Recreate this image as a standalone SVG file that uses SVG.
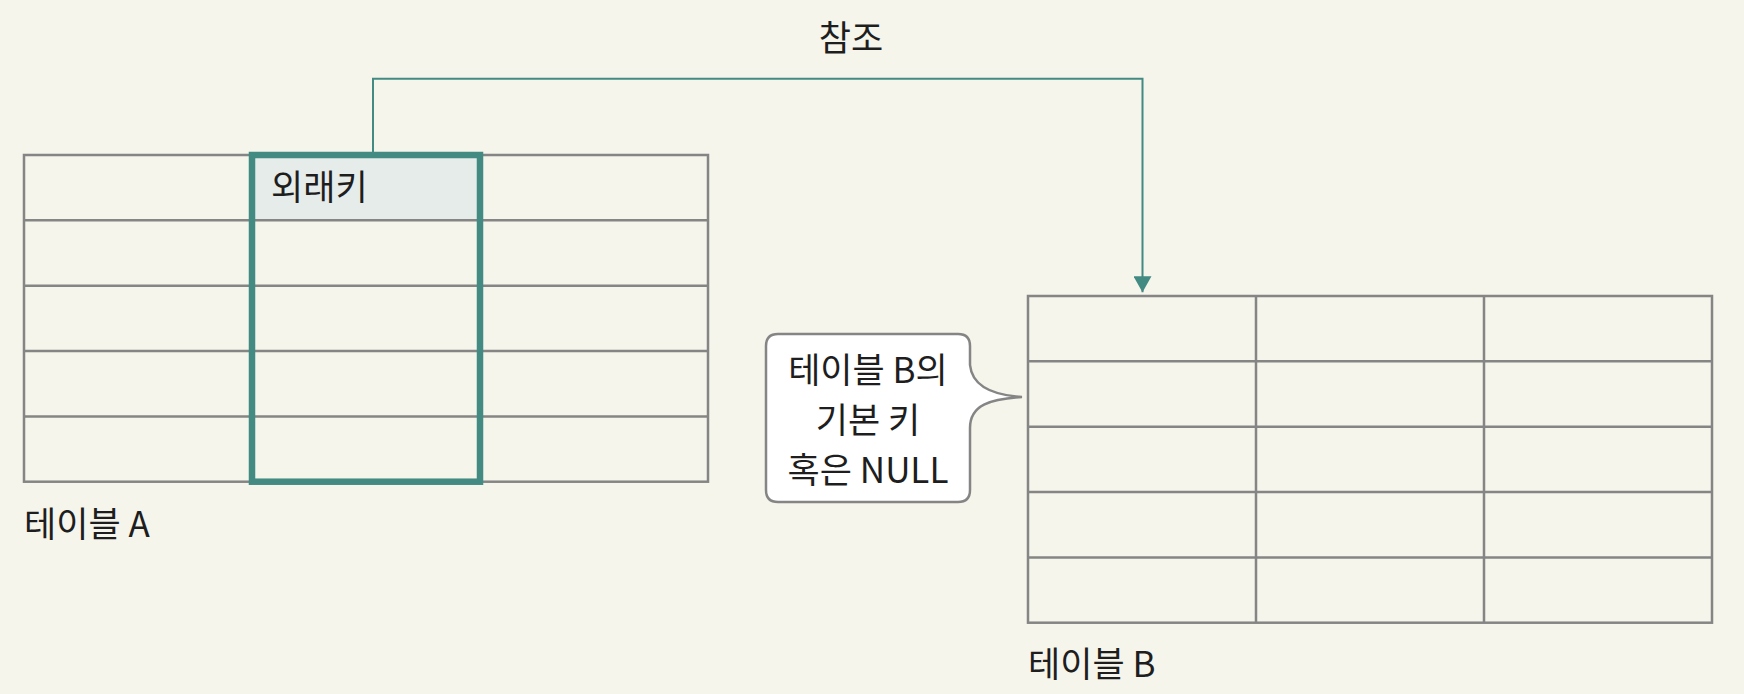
<svg xmlns="http://www.w3.org/2000/svg" width="1744" height="694" viewBox="0 0 1744 694">
<defs>
<style>
.bg{fill:#f5f5eb}
.cell{fill:none;stroke:#858585;stroke-width:2.5}
.txt{font-family:"Noto Sans CJK KR","Noto Sans",sans-serif;font-size:35px;fill:#1e1e1e}
.fk{fill:none;stroke:#428a82;stroke-width:6.5}
.conn{fill:none;stroke:#428a82;stroke-width:2}
.bubble{fill:#ffffff;stroke:#858585;stroke-width:2.5}
</style>
<marker id="arrow" viewBox="0 0 16 18" markerUnits="userSpaceOnUse" markerWidth="16" markerHeight="18" refX="16" refY="9" orient="auto">
<path d="M0,0 L16,9 L0,18 Z" fill="#428a82"/>
</marker>
</defs>
<rect class="bg" x="0" y="0" width="1744" height="694"/>

<g id="tableA">
<rect x="252" y="155" width="228" height="65.35" fill="#e6ece9"/>
<rect class="cell" x="24" y="155" width="684" height="326.7"/>
<line class="cell" x1="24" y1="220.35" x2="708" y2="220.35"/>
<line class="cell" x1="24" y1="285.7" x2="708" y2="285.7"/>
<line class="cell" x1="24" y1="351.05" x2="708" y2="351.05"/>
<line class="cell" x1="24" y1="416.4" x2="708" y2="416.4"/>
<line class="cell" x1="252" y1="155" x2="252" y2="481.7"/>
<line class="cell" x1="480" y1="155" x2="480" y2="481.7"/>
<rect class="fk" x="252" y="155" width="228" height="326.7"/>
<text class="txt" x="271" y="200">외래키</text>
<text class="txt" x="24" y="537">테이블 A</text>
</g>

<g id="tableB">
<rect class="cell" x="1028" y="296" width="684" height="326.7"/>
<line class="cell" x1="1028" y1="361.35" x2="1712" y2="361.35"/>
<line class="cell" x1="1028" y1="426.7" x2="1712" y2="426.7"/>
<line class="cell" x1="1028" y1="492.05" x2="1712" y2="492.05"/>
<line class="cell" x1="1028" y1="557.4" x2="1712" y2="557.4"/>
<line class="cell" x1="1256" y1="296" x2="1256" y2="622.7"/>
<line class="cell" x1="1484" y1="296" x2="1484" y2="622.7"/>
<text class="txt" x="1028" y="677">테이블 B</text>
</g>

<g id="callout">
<path class="bubble" d="M778 334 H958 Q970 334 970 346 V365 C972 385 990 395 1022 397 C990 399 970 405 970 428 V490 Q970 502 958 502 H778 Q766 502 766 490 V346 Q766 334 778 334 Z"/>
<text class="txt" text-anchor="middle" x="868" y="383">테이블 B의</text>
<text class="txt" text-anchor="middle" x="868" y="433">기본 키</text>
<text class="txt" text-anchor="middle" x="868" y="482.5">혹은 NULL</text>
</g>

<g id="connectors">
<path class="conn" d="M373 152 V78.7 H1142.5 V292.3" marker-end="url(#arrow)"/>
<text class="txt" text-anchor="middle" x="851" y="51">참조</text>
</g>
</svg>
